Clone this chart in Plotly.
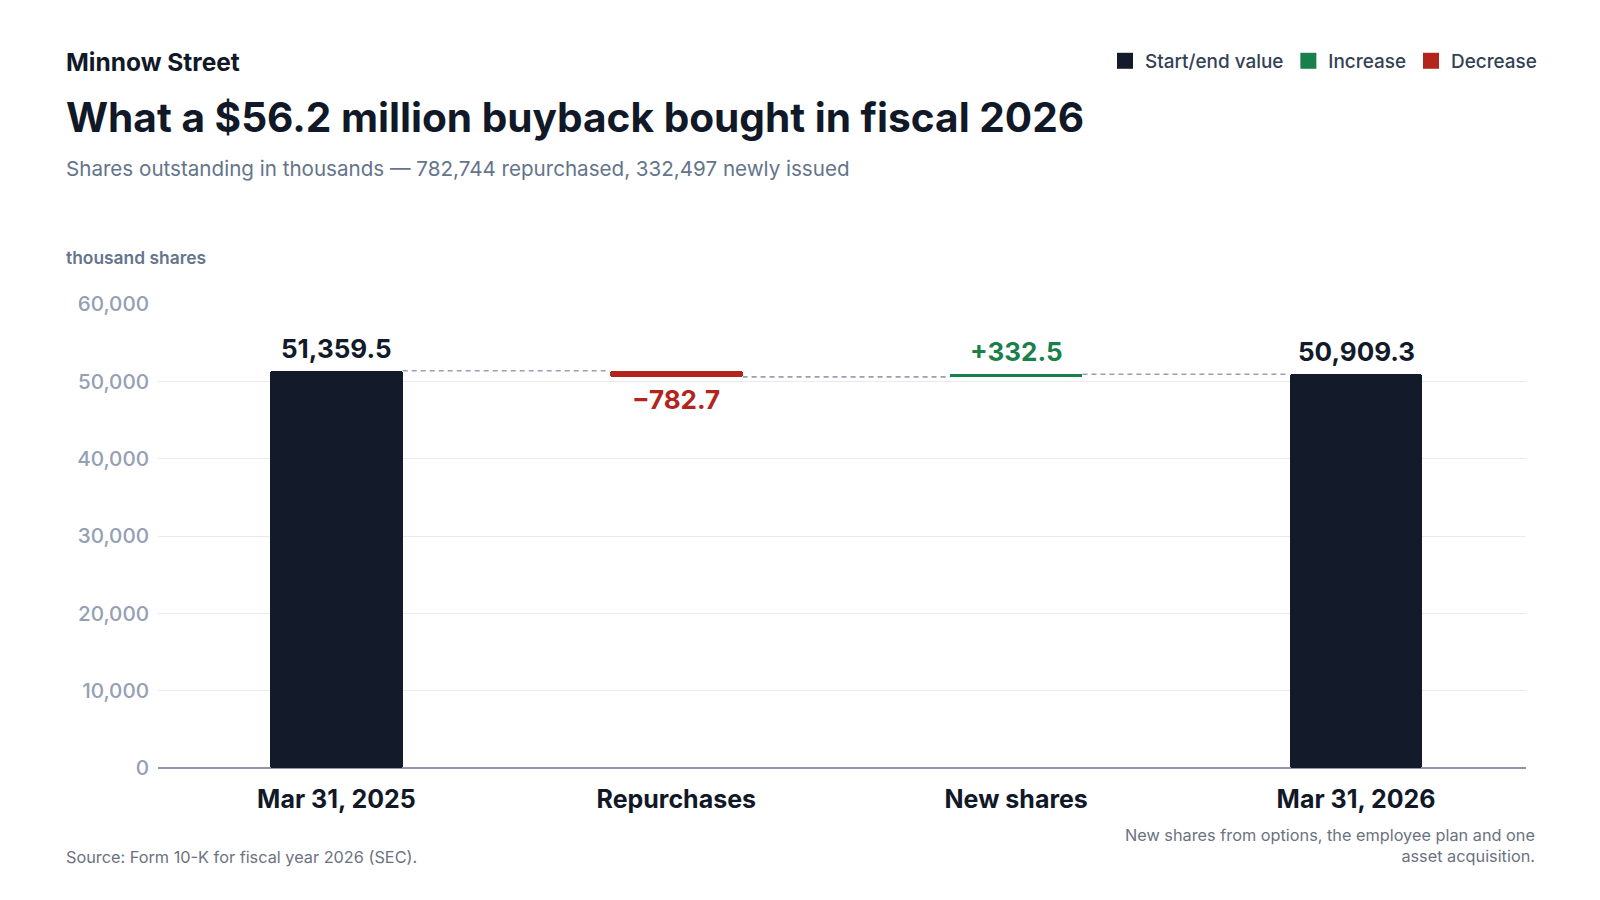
import plotly.graph_objects as go

categories = ["Mar 31, 2025", "Repurchases", "New shares", "Mar 31, 2026"]
kinds = ["total", "decrease", "increase", "total"]
start_value = 51359.5
repurchases = -782.7
new_shares = 332.5
end_value = 50909.3
changes = [start_value, repurchases, new_shares, end_value]
y_ticks = [0, 10000, 20000, 30000, 40000, 50000, 60000]

DARK = "#131a29"
GREEN = "#1b7f4c"
RED = "#b3241c"
FONT = "Inter"

W, H = 1600, 900
L, R, T, B = 158, 1526, 304, 768

# compute bases / tops
bases, heights, tops = [], [], []
running = 0.0
for k, v in zip(kinds, changes):
    if k == "total":
        bases.append(0.0)
        heights.append(v)
        running = v
    elif k == "decrease":
        bases.append(running + v)
        heights.append(-v)
        running = running + v
    else:
        bases.append(running)
        heights.append(v)
        running = running + v
    tops.append(bases[-1] + heights[-1])

xs = list(range(len(categories)))
BW = 0.39
fig = go.Figure()

color_map = {"total": DARK, "increase": GREEN, "decrease": RED}
names = {"total": "Start/end value", "increase": "Increase", "decrease": "Decrease"}
for kind in ["total", "increase", "decrease"]:
    idx = [i for i, k in enumerate(kinds) if k == kind]
    fig.add_trace(go.Bar(
        x=[xs[i] for i in idx], y=[heights[i] for i in idx], base=[bases[i] for i in idx],
        width=BW, marker=dict(color=color_map[kind], line=dict(width=0), cornerradius=3),
        name=names[kind], showlegend=False, hoverinfo="skip"))

# legend entries
for kind in ["total", "increase", "decrease"]:
    fig.add_trace(go.Scatter(
        x=[None], y=[None], mode="markers", name=names[kind],
        marker=dict(symbol="square", size=16, color=color_map[kind], line=dict(width=0)),
        showlegend=True))

# connectors
for i in range(len(xs) - 1):
    k = kinds[i]
    level = tops[i] if k != "decrease" else bases[i]
    fig.add_trace(go.Scatter(
        x=[xs[i] + BW / 2, xs[i + 1] - BW / 2], y=[level, level], mode="lines",
        line=dict(color="#96a0b0", width=1.6, dash="5px,4px"), showlegend=False, hoverinfo="skip"))

# value labels
for i, (k, v) in enumerate(zip(kinds, changes)):
    if k == "total":
        txt, col, y, ya = f"{v:,.1f}", DARK, tops[i], "bottom"
    elif k == "increase":
        txt, col, y, ya = f"+{v:,.1f}", GREEN, tops[i], "bottom"
    else:
        txt, col, y, ya = f"\u2212{abs(v):,.1f}", RED, bases[i], "top"
    fig.add_annotation(x=xs[i], y=y, text=txt, showarrow=False, yanchor=ya,
                       yshift=5 if ya == "bottom" else -5,
                       font=dict(family=FONT, size=26, color=col, weight=700))

fig.update_layout(
    width=W, height=H, paper_bgcolor="white", plot_bgcolor="white",
    margin=dict(l=L, r=W - R, t=T, b=H - B),
    barmode="overlay", bargap=0,
    font=dict(family=FONT),
    showlegend=True,
    legend=dict(orientation="h", x=(1542 - L) / (R - L), xanchor="right", y=1 - 61 / H, yref="container",
                yanchor="middle",
                font=dict(family=FONT, size=18.9, color="#334155", weight=500), traceorder="normal",
                itemsizing="trace", bgcolor="rgba(0,0,0,0)"),
    xaxis=dict(range=[-0.525, 3.5], tickvals=xs, ticktext=categories, showgrid=False, zeroline=False,
               ticks="", ticklabelstandoff=14,
               tickfont=dict(family=FONT, size=25, color="#111827", weight=700),
               showline=False, fixedrange=True),
    yaxis=dict(range=[0, 60000], tickvals=y_ticks, tickformat=",", showgrid=True, gridcolor="#e8eaee",
               gridwidth=1, zeroline=True, zerolinecolor="#8d96aa", zerolinewidth=2, ticks="",
               ticklabelstandoff=8,
               tickfont=dict(family=FONT, size=20.6, color="#94a0b4", weight=500), showline=False),
)

def px_x(x):
    return (x - L) / (R - L)

def px_y(y):
    return (B - y) / (B - T)

texts = [
    (64, 62, "Minnow Street", 24.5, "#111827", 700),
    (64, 118, "What a $56.2 million buyback bought in fiscal 2026", 40.6, "#111827", 700),
    (64, 168, "Shares outstanding in thousands \u2014 782,744 repurchased, 332,497 newly issued", 20.6, "#64748b", 400),
    (64, 257, "thousand shares", 17.4, "#64748b", 600),
    (64, 857, "Source: Form 10-K for fiscal year 2026 (SEC).", 16.3, "#6b7280", 400),
]
for x, y, t, s, c, w in texts:
    fig.add_annotation(xref="paper", yref="paper", x=px_x(x), y=px_y(y), text=t, showarrow=False,
                       xanchor="left", yanchor="middle",
                       font=dict(family=FONT, size=s, color=c, weight=w))
fig.add_annotation(xref="paper", yref="paper", x=px_x(1537), y=px_y(845),
                   text="New shares from options, the employee plan and one<br>asset acquisition.",
                   showarrow=False, xanchor="right", yanchor="middle", align="right",
                   font=dict(family=FONT, size=16.3, color="#6b7280"))

fig.write_html("out.html", config={"displayModeBar": False},
               post_script="document.body.style.margin='0';document.body.style.overflow='hidden';")
